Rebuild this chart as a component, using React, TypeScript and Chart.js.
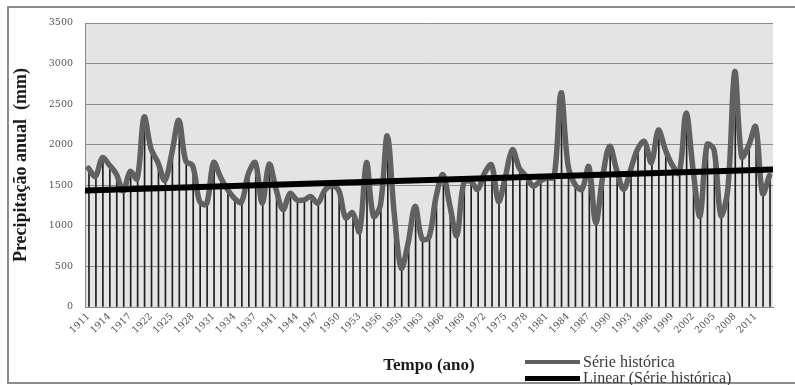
import React, { useEffect, useRef } from 'react';
import { Chart, registerables } from 'chart.js';

Chart.register(...registerables);

const years = [
  1911, 1912, 1913, 1914, 1915, 1916, 1917, 1920, 1921, 1922,
  1923, 1924, 1925, 1926, 1927, 1928, 1929, 1930, 1931, 1932,
  1933, 1934, 1935, 1936, 1937, 1938, 1940, 1941, 1942, 1943,
  1944, 1945, 1946, 1947, 1948, 1949, 1950, 1951, 1952, 1953,
  1954, 1955, 1956, 1957, 1958, 1959, 1961, 1962, 1963, 1964,
  1965, 1966, 1967, 1968, 1969, 1970, 1971, 1972, 1973, 1974,
  1975, 1976, 1977, 1978, 1979, 1980, 1981, 1982, 1983, 1984,
  1985, 1986, 1987, 1988, 1989, 1990, 1991, 1992, 1993, 1994,
  1995, 1996, 1997, 1998, 1999, 2000, 2001, 2002, 2003, 2004,
  2005, 2006, 2007, 2008, 2009, 2010, 2011, 2012, 2013,
];

const precipitation = [
  1710, 1610, 1840, 1750, 1640, 1430, 1670, 1580, 2340, 1950,
  1780, 1560, 1900, 2300, 1800, 1740, 1300, 1270, 1780, 1600,
  1450, 1340, 1290, 1640, 1780, 1280, 1760, 1450, 1200, 1400,
  1320, 1320, 1360, 1280, 1440, 1490, 1440, 1100, 1160, 930,
  1780, 1120, 1250, 2110, 1150, 480, 790, 1240, 840, 860,
  1350, 1630, 1250, 880, 1530, 1550, 1450, 1650, 1750, 1300,
  1610, 1940, 1710, 1610, 1490, 1550, 1590, 1600, 2640, 1750,
  1510, 1450, 1730, 1040, 1610, 1980, 1690, 1450, 1690, 1940,
  2040, 1780, 2180, 1940, 1750, 1650, 2390, 1690, 1120, 2000,
  1940, 1130, 1450, 2900, 1850, 1990, 2220, 1400, 1620,
];

// linear trend values at the left and right edges of the year range
const trendValues = [1437, 1694];
const trendIndexRange = [-0.5, years.length - 0.5];

const seriesLabel = 'Série histórica';
const trendLabel = 'Linear (Série histórica)';

const plotBg = {
  id: 'plotBg',
  beforeDraw(chart: any) {
    const { ctx, chartArea: a } = chart;
    ctx.save();
    ctx.fillStyle = '#ffffff';
    ctx.fillRect(0, 0, chart.width, chart.height);
    ctx.fillStyle = '#e4e4e4';
    ctx.fillRect(a.left, a.top, a.right - a.left, a.bottom - a.top);
    ctx.restore();
  },
};

export default function App() {
  const ref = useRef<HTMLCanvasElement | null>(null);

  useEffect(() => {
    if (!ref.current) return;
    const tickFont = { family: 'DejaVu Serif', size: 9.5 };
    const chart = new Chart(ref.current, {
      type: 'line',
      data: {
        labels: years.map(String),
        datasets: [
          {
            type: 'line',
            label: trendLabel,
            xAxisID: 'xT',
            data: trendIndexRange.map((x, i) => ({ x, y: trendValues[i] })),
            borderColor: '#000000',
            borderWidth: 6,
            pointRadius: 0,
            order: 0,
          } as any,
          {
            type: 'line',
            label: seriesLabel,
            data: precipitation,
            borderColor: '#616161',
            borderWidth: 5.5,
            pointRadius: 0,
            tension: 0.35,
            borderJoinStyle: 'round',
            borderCapStyle: 'round',
            order: 1,
          } as any,
          {
            type: 'bar',
            label: 'drop',
            data: precipitation,
            backgroundColor: '#1e1e1e',
            barThickness: 1,
            order: 2,
          } as any,
        ],
      },
      options: {
        animation: false,
        responsive: false,
        layout: { padding: { left: 0, right: 22, top: 23, bottom: 0 } },
        plugins: {
          legend: { display: false },
          tooltip: { enabled: false },
        },
        scales: {
          x: {
            type: 'category',
            offset: true,
            grid: { display: false, drawTicks: false },
            border: { display: true, color: '#8a8a8a' },
            ticks: {
              autoSkip: false,
              maxRotation: 45,
              minRotation: 45,
              padding: 4,
              color: '#555555',
              font: tickFont,
              callback: (_v: any, i: number) => (i % 3 === 0 ? String(years[i]) : ''),
            },
            title: {
              display: true,
              text: 'Tempo (ano)',
              color: '#1a1a1a',
              font: { family: 'Liberation Serif', size: 17, weight: 'bold' },
              padding: { top: 0, bottom: 9 },
            },
            afterFit: (s: any) => {
              s.height = 78;
            },
          },
          xT: {
            type: 'linear',
            display: false,
            offset: false,
            bounds: 'data',
            grace: 0,
            min: trendIndexRange[0],
            max: trendIndexRange[1],
            grid: { offset: false },
          },
          y: {
            min: 0,
            max: 3500,
            ticks: {
              stepSize: 500,
              padding: 12,
              color: '#555555',
              font: tickFont,
              callback: (v: any) => String(v),
            },
            grid: { color: '#8a8a8a', drawTicks: false },
            border: { display: true, color: '#8a8a8a' },
            title: {
              display: true,
              text: 'Precipitação anual  (mm)',
              color: '#1a1a1a',
              font: { family: 'Liberation Serif', size: 18, weight: 'bold' },
              padding: { top: 11, bottom: 0 },
            },
            afterFit: (s: any) => {
              s.width = 85;
            },
          },
        },
      } as any,
      plugins: [plotBg],
    });
    return () => chart.destroy();
  }, []);

  const legendText: React.CSSProperties = {
    fontFamily: 'Liberation Serif',
    fontSize: 16,
    color: '#3a3a3a',
    marginLeft: 3,
    lineHeight: '16px',
    whiteSpace: 'nowrap',
  };

  return (
    <div style={{ position: 'fixed', left: 0, top: 0, width: 795, height: 385, overflow: 'hidden', background: '#fff' }}>
      <canvas ref={ref} width={795} height={385} style={{ position: 'absolute', left: 0, top: 0 }} />
      <div
        style={{
          position: 'absolute',
          left: 7,
          top: 6,
          width: 800,
          height: 378,
          border: '2px solid #8c8c8c',
          boxSizing: 'border-box',
          pointerEvents: 'none',
        }}
      />
      <div style={{ position: 'absolute', left: 525, top: 354, display: 'flex', alignItems: 'center' }}>
        <span style={{ display: 'inline-block', width: 55, height: 4, background: '#5f5f5f' }} />
        <span style={legendText}>{seriesLabel}</span>
      </div>
      <div style={{ position: 'absolute', left: 525, top: 370, display: 'flex', alignItems: 'center' }}>
        <span style={{ display: 'inline-block', width: 55, height: 5, background: '#000' }} />
        <span style={legendText}>{trendLabel}</span>
      </div>
    </div>
  );
}
